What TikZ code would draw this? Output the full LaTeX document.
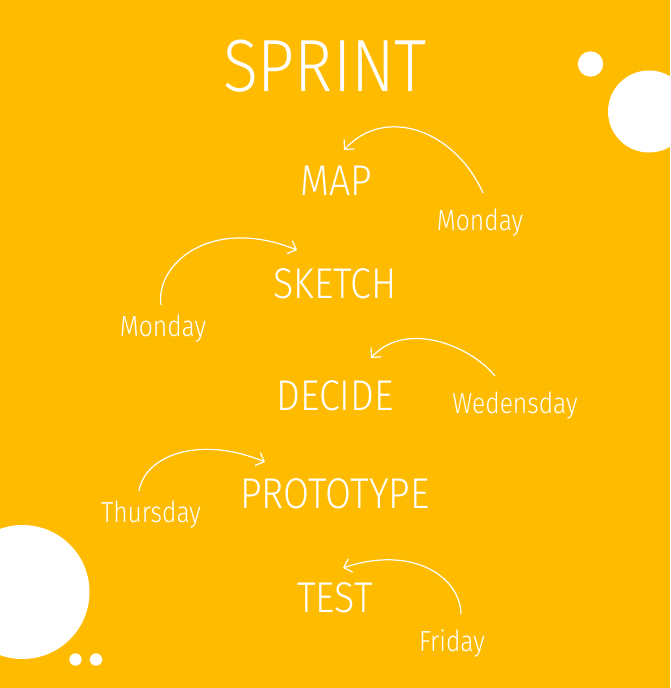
\documentclass[tikz,border=0pt]{standalone}
\usepackage{fontspec}
\setmainfont{Fira Sans}[UprightFont=* Light, FakeStretch=0.85]
\newfontfamily\stagefont{Fira Sans}[UprightFont=* Light, FakeStretch=0.875]
\usetikzlibrary{arrows.meta}
\definecolor{sunny}{HTML}{FFBB00}
\begin{document}
\begin{tikzpicture}[x=1pt,y=-1pt,
  stage/.style={text=white, font=\stagefont\fontsize{43}{43}\selectfont, inner sep=0pt},
  day/.style={text=white, font=\fontsize{29}{29}\selectfont, inner sep=0pt},
  hop/.style={draw=white, line width=1.2pt, -{Straight Barb[length=7pt,width=14pt]}},
  blob/.style={fill=white, draw=none}]
  % canvas
  \fill[sunny] (0,0) rectangle (670,688);
  \useasboundingbox (0,0) rectangle (670,688);
  % decorative circles
  \fill[blob] (590.5,64) circle (12.7);
  \fill[blob] (649,111.5) circle (41);
  \fill[blob] (22.5,592) circle (67);
  \fill[blob] (75.5,659.5) circle (6.2);
  \fill[blob] (96,659.5) circle (6.2);
  % title
  \node[text=white, font=\stagefont\fontsize{74}{74}\selectfont, inner sep=0pt] (title) at (325,66) {SPRINT};
  % stages
  \node[stage] (map) at (336,181) {MAP};
  \node[stage] (sketch) at (335,284) {SKETCH};
  \node[stage] (decide) at (335,396) {DECIDE};
  \node[stage] (proto) at (335,494) {PROTOTYPE};
  \node[stage] (test) at (335,598) {TEST};
  % days
  \node[day] (mon1) at (480,223) {Monday};
  \node[day] (mon2) at (163,329) {Monday};
  \node[day] (wed) at (515,406) {Wedensday};
  \node[day] (thu) at (151,515) {Thursday};
  \node[day] (fri) at (452,644) {Friday};
  % arrow ends
  \coordinate (m1s) at (483,193);   \coordinate (m1e) at (344,150);
  \coordinate (m2s) at (161,305);   \coordinate (m2e) at (297,250);
  \coordinate (wes) at (495,376);   \coordinate (wee) at (371,358);
  \coordinate (ths) at (139,491);   \coordinate (the) at (265,462);
  \coordinate (frs) at (461,614);   \coordinate (fre) at (343,568);
  % day-to-stage arrows
  \draw[hop] (m1s) .. controls (455,130) and (385,105) .. (m1e);
  \draw[hop] (m2s) .. controls (155,265) and (210,215) .. (m2e);
  \draw[hop] (wes) .. controls (470,345) and (405,320) .. (wee);
  \draw[hop] (ths) .. controls (145,455) and (200,435) .. (the);
  \draw[hop] (frs) .. controls (460,575) and (410,545) .. (fre);
\end{tikzpicture}
\end{document}
